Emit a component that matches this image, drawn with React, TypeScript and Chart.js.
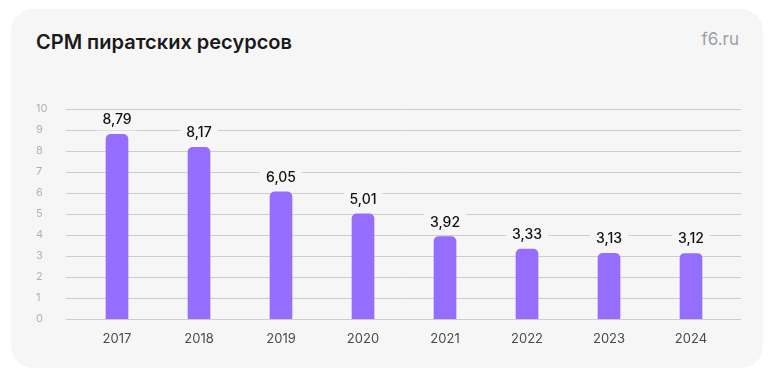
import React, { useEffect, useRef } from "react";
import { Chart, registerables } from "chart.js";

Chart.register(...registerables);

const years = ["2017", "2018", "2019", "2020", "2021", "2022", "2023", "2024"];
const cpmValues = [8.79, 8.17, 6.05, 5.01, 3.92, 3.33, 3.13, 3.12];
const yMin = 0;
const yMax = 10;
const yStep = 1;

const CARD_BG = "#f6f6f6";
const BAR_COLOR = "#966eff";
const GRID_COLOR = "#cdcdcd";

const gridPlugin = {
  id: "extGrid",
  beforeDatasetsDraw(chart: any) {
    const { ctx, chartArea, scales } = chart;
    const y = scales.y;
    ctx.save();
    ctx.strokeStyle = GRID_COLOR;
    ctx.lineWidth = 1;
    y.ticks.forEach((t: any) => {
      const py = Math.round(y.getPixelForValue(t.value)) + 0.5;
      ctx.beginPath();
      ctx.moveTo(chartArea.left - 10, py);
      ctx.lineTo(chartArea.right + 9, py);
      ctx.stroke();
    });
    ctx.restore();
  },
};

const labelPlugin = {
  id: "valueLabels",
  afterDatasetsDraw(chart: any) {
    const { ctx } = chart;
    const meta = chart.getDatasetMeta(0);
    const data = chart.data.datasets[0].data as number[];
    ctx.save();
    ctx.font = "500 14px Inter, 'Noto Sans', sans-serif";
    ctx.textAlign = "center";
    ctx.textBaseline = "alphabetic";
    meta.data.forEach((bar: any, i: number) => {
      const text = data[i].toFixed(2).replace(".", ",");
      const w = ctx.measureText(text).width;
      const base = bar.y - 10;
      ctx.fillStyle = CARD_BG;
      ctx.fillRect(bar.x - w / 2 - 6, base - 13, w + 12, 19);
      ctx.fillStyle = "#111111";
      ctx.fillText(text, bar.x, base);
    });
    ctx.restore();
  },
};

export default function App() {
  const ref = useRef<HTMLCanvasElement | null>(null);

  useEffect(() => {
    if (!ref.current) return;
    const chart = new Chart(ref.current, {
      type: "bar",
      data: {
        labels: years,
        datasets: [
          {
            data: cpmValues,
            backgroundColor: BAR_COLOR,
            barThickness: 22,
            borderRadius: 5,
            borderSkipped: "start",
          },
        ],
      },
      options: {
        responsive: false,
        animation: false,
        devicePixelRatio: 1,
        layout: { padding: { left: 36, right: 50, top: 109, bottom: 23 } },
        plugins: {
          legend: { display: false },
          tooltip: { enabled: false },
          title: { display: false },
        },
        scales: {
          x: {
            grid: { display: false, drawTicks: false },
            border: { display: false },
            ticks: {
              color: "#4a4a4a",
              padding: 12,
              font: { family: "Inter, 'Noto Sans', sans-serif", size: 13 },
            },
            afterFit(scale: any) {
              scale.height = 30;
            },
          },
          y: {
            min: yMin,
            max: yMax,
            grid: { display: false, drawTicks: false },
            border: { display: false },
            ticks: {
              stepSize: yStep,
              color: "#b0b0b0",
              crossAlign: "far",
              font: { family: "Inter, 'Noto Sans', sans-serif", size: 11 },
            },
            afterFit(scale: any) {
              scale.width = 40;
            },
          },
        },
      },
      plugins: [gridPlugin, labelPlugin],
    });
    return () => chart.destroy();
  }, []);

  return (
    <div>
      <div
        style={{
          position: "fixed",
          left: 11,
          top: 9,
          width: 752,
          height: 359,
          background: CARD_BG,
          borderRadius: 22,
        }}
      />
      <div
        style={{
          position: "fixed",
          left: 36,
          top: 30,
          font: "600 20px Inter, 'Noto Sans', sans-serif",
          color: "#1a1a1a",
          whiteSpace: "nowrap",
          lineHeight: "normal",
        }}
      >
        CPM пиратских ресурсов
      </div>
      <div
        style={{
          position: "fixed",
          right: 43,
          top: 29,
          font: "400 17px Inter, 'Noto Sans', sans-serif",
          color: "#9d9da8",
          whiteSpace: "nowrap",
          lineHeight: "normal",
        }}
      >
        f6.ru
      </div>
      <canvas
        ref={ref}
        width={782}
        height={372}
        style={{ position: "fixed", left: 0, top: 0, width: 782, height: 372 }}
      />
    </div>
  );
}
